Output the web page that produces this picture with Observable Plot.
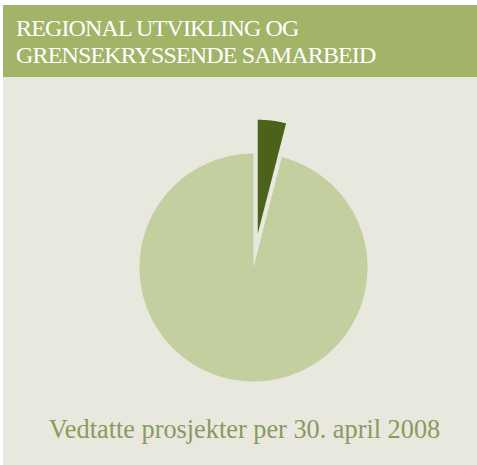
<!DOCTYPE html>
<html><head><meta charset="utf-8">
<script src="https://cdn.jsdelivr.net/npm/d3@7"></script>
<script src="https://cdn.jsdelivr.net/npm/@observablehq/plot@0.6"></script>
<style>
html,body{margin:0;padding:0;background:#fff;}
#wrap{position:absolute;left:3px;top:5px;width:474px;height:460px;background:#e9e8df;overflow:hidden;}
#hdr{height:72px;background:#a2b468;color:#fff;font-family:"Liberation Serif",serif;font-size:24px;line-height:27px;padding:9.5px 0 0 13px;box-sizing:border-box;letter-spacing:-0.85px;}
#chart{position:absolute;left:0;top:72px;}
#chart svg{background:none;}
#cap{position:absolute;left:0;top:410px;width:474px;box-sizing:border-box;padding-left:9px;text-align:center;font-family:"Liberation Serif",serif;font-size:26.3px;line-height:30px;color:#8a9a5e;}
</style></head>
<body>
<div id="wrap">
  <div id="hdr">REGIONAL UTVIKLING OG<br>GRENSEKRYSSENDE SAMARBEID</div>
  <div id="chart"></div>
  <div id="cap">Vedtatte prosjekter per 30. april 2008</div>
</div>
<script>
const categories = ["Regional utvikling og grensekryssende samarbeid", "Øvrige"];
const values = [4, 96];
const colors = ["#4a6219", "#c3cf9f"];
const exploded = [true, false];

const R = 114, OFFSET = 34;
const arcs = d3.pie().sort(null)(values);
const pts = [];
arcs.forEach((a, i) => {
  const mid = (a.startAngle + a.endAngle) / 2;
  const ox = exploded[i] ? OFFSET * Math.sin(mid) : 0;
  const oy = exploded[i] ? OFFSET * Math.cos(mid) : 0;
  const name = categories[i];
  pts.push({name, x: ox, y: oy});
  const n = Math.max(2, Math.ceil((a.endAngle - a.startAngle) / (Math.PI / 180)));
  for (let k = 0; k <= n; k++) {
    const t = a.startAngle + (a.endAngle - a.startAngle) * k / n;
    pts.push({name, x: ox + R * Math.sin(t), y: oy + R * Math.cos(t)});
  }
  pts.push({name, x: ox, y: oy});
});

const chart = Plot.plot({
  width: 474, height: 320,
  margin: 0,
  x: {domain: [-250, 224], axis: null},
  y: {domain: [-130, 190], axis: null},
  color: {domain: categories, range: colors},
  marks: [
    Plot.line(pts, {x: "x", y: "y", z: "name", fill: "name", stroke: "none", curve: "linear"})
  ]
});
document.getElementById("chart").appendChild(chart);
</script>
</body></html>
